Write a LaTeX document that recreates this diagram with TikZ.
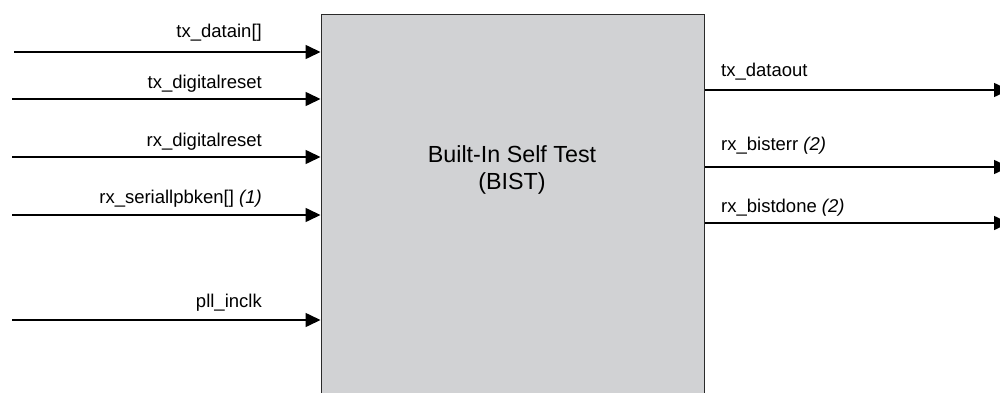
\documentclass[tikz,border=0pt]{standalone}
\usepackage{fontspec}
\setmainfont{Liberation Sans}
\usetikzlibrary{arrows.meta}
\definecolor{boxfill}{HTML}{D1D2D4}
\definecolor{boxline}{HTML}{2A2A2A}
\begin{document}
\begin{tikzpicture}[x=1pt,y=-1pt,
  sig/.style={line width=1.6pt,-{Triangle[length=15pt,width=14pt]}},
  lbl/.style={font=\fontsize{18.5}{20}\selectfont,inner sep=0pt},
  inlbl/.style={lbl,anchor=base east},
  outlbl/.style={lbl,anchor=base west},
  blockbox/.style={draw=boxline,fill=boxfill,line width=1.5pt,inner sep=0pt,anchor=north west}]
\useasboundingbox (0,0) rectangle (1000,393);
\clip (0,0) rectangle (1000,393);
\node[blockbox,minimum width=383pt,minimum height=420pt] (bist) at (320.5,14) {};
\node[font=\fontsize{23.3}{27.5}\selectfont,align=center,inner sep=0pt,anchor=base] (title) at (512,189.5) {Built-In Self Test\\(BIST)};
% inputs
\coordinate (i1) at (14,52);
\coordinate (i2) at (12,99);
\coordinate (i3) at (12,157);
\coordinate (i4) at (12,215);
\coordinate (i5) at (12,320);
\draw[sig] (i1) -- (i1 -| bist.west);
\draw[sig] (i2) -- (i2 -| bist.west);
\draw[sig] (i3) -- (i3 -| bist.west);
\draw[sig] (i4) -- (i4 -| bist.west);
\draw[sig] (i5) -- (i5 -| bist.west);
\node[inlbl] (l1) at (262,38) {tx\_datain[]};
\node[inlbl] (l2) at (262,89) {tx\_digitalreset};
\node[inlbl] (l3) at (262,146) {rx\_digitalreset};
\node[inlbl] (l4) at (262,203.3) {rx\_seriallpbken[] \textit{(1)}};
\node[inlbl] (l5) at (262,307.7) {pll\_inclk};
% outputs
\coordinate (o1) at (1009,90);
\coordinate (o2) at (1009,167);
\coordinate (o3) at (1009,223);
\draw[sig] (o1 -| bist.east) -- (o1);
\draw[sig] (o2 -| bist.east) -- (o2);
\draw[sig] (o3 -| bist.east) -- (o3);
\node[outlbl] (r1) at (721,76.7) {tx\_dataout};
\node[outlbl] (r2) at (721,150) {rx\_bisterr \textit{(2)}};
\node[outlbl] (r3) at (721,212.7) {rx\_bistdone \textit{(2)}};
\end{tikzpicture}
\end{document}
